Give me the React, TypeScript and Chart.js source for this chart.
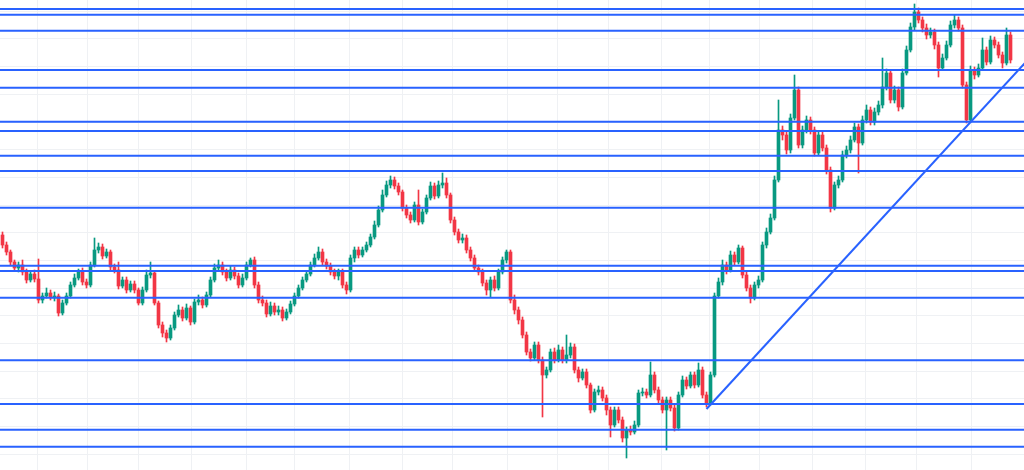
import { useEffect, useRef } from "react";
import Chart from "chart.js/auto";

// Daily candles: [open, high, low, close] (price points)
const candles: [number, number, number, number][] = [
  [265,268,252,255],[255,258,245,248],[248,250,235,238],[238,240,229,232],[232,238,228,235],
  [235,240,225,228],[228,231,217,220],[220,229,218,226],[226,230,218,221],[221,241,197,200],
  [200,207,197,204],[204,212,202,207],[207,210,200,203],[203,208,199,204],[204,206,184,187],
  [187,200,185,197],[197,207,195,204],[204,218,202,215],[215,226,213,222],[222,231,220,228],
  [228,232,215,218],[218,221,212,215],[215,238,213,235],[235,262,233,250],[250,257,247,253],
  [253,256,241,244],[244,251,242,248],[248,250,230,233],[233,236,227,230],[230,238,211,214],
  [214,223,212,220],[220,223,207,210],[210,219,208,216],[216,219,207,210],[210,212,195,197],
  [197,213,195,210],[210,230,208,225],[225,238,222,227],[227,229,195,197],[197,199,172,175],
  [175,178,163,167],[167,170,158,162],[162,175,160,172],[172,188,170,185],[185,195,183,190],
  [190,193,179,182],[182,196,180,192],[192,194,175,178],[178,201,176,198],[198,205,195,200],
  [200,203,192,195],[195,208,193,205],[205,223,203,220],[220,236,218,232],[232,240,230,235],
  [235,238,225,228],[228,231,219,222],[222,234,220,230],[230,233,221,224],[224,227,212,215],
  [215,226,213,222],[222,238,220,235],[235,242,233,240],[240,243,212,215],[215,218,197,200],
  [200,204,194,197],[197,200,183,186],[186,198,184,194],[194,197,185,188],[188,194,185,190],
  [190,193,179,182],[182,191,180,188],[188,199,186,196],[196,207,194,204],[204,215,202,212],
  [212,223,210,220],[220,229,218,226],[226,238,224,235],[235,246,233,242],[242,253,240,248],
  [248,251,235,238],[238,241,231,234],[234,237,225,228],[228,231,221,224],[224,231,220,228],
  [228,231,212,215],[215,218,206,210],[210,245,208,242],[242,253,238,250],[250,253,242,245],
  [245,253,243,250],[250,258,248,255],[255,266,253,263],[263,279,261,275],[275,294,273,290],
  [290,310,288,305],[305,319,303,315],[315,324,312,320],[320,323,311,314],[314,317,305,308],
  [308,310,289,292],[292,295,282,285],[285,288,277,280],[280,298,278,295],[295,310,275,278],
  [278,291,276,288],[288,305,286,302],[302,318,300,314],[314,317,301,304],[304,319,302,315],
  [315,327,312,317],[317,322,302,305],[305,307,277,280],[280,283,265,268],[268,271,257,260],
  [260,266,257,262],[262,265,247,250],[250,253,239,242],[242,245,229,232],[232,235,225,228],
  [228,231,214,217],[217,220,205,210],[210,223,203,220],[220,224,209,212],[212,231,210,228],
  [228,243,226,240],[240,250,237,248],[248,250,197,200],[200,205,186,190],[190,193,176,180],
  [180,183,162,165],[165,168,145,148],[148,151,139,142],[142,158,140,155],[155,158,137,140],
  [140,143,83,125],[125,133,122,130],[130,151,128,148],[148,152,137,140],[140,155,138,150],
  [150,153,137,140],[140,165,137,145],[145,157,142,153],[153,156,127,130],[130,133,118,122],
  [122,131,120,128],[128,131,112,115],[115,117,87,90],[90,111,88,108],[108,114,105,110],
  [110,113,99,102],[102,105,85,90],[90,93,63,75],[75,93,73,90],[90,93,77,80],
  [80,83,58,62],[62,73,42,70],[70,74,65,68],[68,79,66,75],[75,110,73,107],
  [107,112,104,108],[108,111,102,105],[105,138,103,125],[125,128,107,110],[110,113,97,100],
  [100,103,87,90],[90,103,50,100],[100,103,89,92],[92,95,69,72],[72,108,70,105],
  [105,124,103,120],[120,123,111,114],[114,128,112,125],[125,128,112,115],[115,137,113,130],
  [130,133,102,105],[105,108,93,97],[97,128,95,125],[125,207,123,204],[204,222,202,218],
  [218,240,215,235],[235,238,226,230],[230,249,228,245],[245,248,235,238],[238,255,236,252],
  [252,254,222,225],[225,228,209,212],[212,215,197,202],[202,218,200,215],[215,224,212,220],
  [220,258,218,255],[255,272,252,268],[268,286,266,282],[282,324,280,320],[320,400,318,370],
  [370,374,360,365],[365,368,346,350],[350,386,347,382],[382,425,380,410],[410,413,352,355],
  [355,374,352,370],[370,384,367,380],[380,383,366,370],[370,373,344,347],[347,369,345,365],
  [365,368,349,352],[352,355,326,330],[330,333,288,292],[292,318,290,315],[315,324,312,320],
  [320,349,318,345],[345,354,342,350],[350,364,347,360],[360,377,358,373],[373,376,327,357],
  [357,384,355,380],[380,395,377,390],[390,393,375,378],[378,392,375,388],[388,399,385,395],
  [395,442,392,413],[413,431,410,427],[427,430,397,400],[400,414,397,410],[410,413,389,393],
  [393,431,391,427],[427,454,425,450],[450,477,448,473],[473,496,470,488],[488,492,477,480],
  [480,483,468,472],[472,476,461,465],[465,472,462,468],[468,471,451,455],[455,458,423,432],
  [432,446,430,442],[442,459,440,455],[455,479,453,475],[475,485,472,480],[480,483,469,472],
  [472,475,412,415],[415,418,377,380],[380,434,378,430],[430,433,421,425],[425,436,423,432],
  [432,462,430,450],[450,453,435,438],[438,464,436,460],[460,463,452,455],[455,458,442,445],
  [445,448,432,437],[437,472,435,465],[465,468,437,440],
];

// Horizontal support / resistance levels (price points)
const levels = [491, 485.3, 469.3, 430, 412.3, 378.3, 369, 344.3, 329, 292.3, 234.3, 229, 202.3, 139.7, 96, 70.3, 53.3];

// Rising trendline anchored at the swing low
const trendline = [
  { x: 176, y: 91 },
  { x: 260, y: 456 },
];

// Month boundaries (candle index) and price grid lines
const monthStarts = [8.7, 21.2, 33.95, 47.2, 60.95, 72.9, 86.7, 99.95, 112.45, 126.2, 138.8, 151.45, 164.7, 176.7, 189.2, 202.55, 215.7, 228.45, 242.2];
const priceGrid = [488.7, 461, 433.3, 405.7, 378, 350.3, 322.7, 295, 267.3, 239.7, 212, 184.3, 156.7, 129, 101.3, 73.7, 46];

const UP = "#089981";
const DOWN = "#f23645";
const LEVEL = "#2962ff";
const GRID = "#eff1f4";

const X_MIN = -0.625;
const X_MAX = 255.375;
const Y_MIN = 30;
const Y_MAX = 500;

export default function App() {
  const ref = useRef<HTMLCanvasElement | null>(null);

  useEffect(() => {
    if (!ref.current) return;
    const colors = candles.map((c) => (c[3] >= c[0] ? UP : DOWN));

    const levelSets = levels.map((v) => ({
      type: "line" as const,
      data: [
        { x: X_MIN - 5, y: v },
        { x: X_MAX + 5, y: v },
      ],
      borderColor: LEVEL,
      borderWidth: 2,
      pointRadius: 0,
      fill: false,
      order: 0,
    }));

    const chart = new Chart(ref.current, {
      type: "bar",
      data: {
        datasets: [
          {
            type: "bar",
            data: candles.map((c, i) => ({ x: i, y: [c[2], c[1]] })) as any,
            backgroundColor: colors,
            barThickness: 1,
            grouped: false,
            order: 2,
          },
          {
            type: "bar",
            data: candles.map((c, i) => ({ x: i, y: [c[0], c[3]] })) as any,
            backgroundColor: colors,
            barThickness: 3,
            minBarLength: 1,
            grouped: false,
            order: 1,
          },
          ...levelSets,
          {
            type: "line",
            data: trendline,
            borderColor: LEVEL,
            borderWidth: 2,
            pointRadius: 0,
            fill: false,
            order: 0,
          },
        ] as any,
      },
      options: {
        responsive: false,
        animation: false,
        devicePixelRatio: 1,
        layout: { padding: 0, autoPadding: false },
        plugins: { legend: { display: false }, tooltip: { enabled: false } },
        scales: {
          x: {
            type: "linear",
            offset: false,
            min: X_MIN,
            max: X_MAX,
            afterBuildTicks: (s: any) => {
              s.ticks = monthStarts.map((v) => ({ value: v }));
            },
            ticks: { display: false },
            grid: { color: GRID, drawTicks: false, lineWidth: 1, offset: false },
            border: { display: false },
          },
          y: {
            type: "linear",
            min: Y_MIN,
            max: Y_MAX,
            afterBuildTicks: (s: any) => {
              s.ticks = priceGrid.map((v) => ({ value: v }));
            },
            ticks: { display: false },
            grid: { color: GRID, drawTicks: false, lineWidth: 1 },
            border: { display: false },
          },
        },
      },
    } as any);
    return () => chart.destroy();
  }, []);

  return (
    <div style={{ position: "absolute", left: 0, top: 0, width: 1024, height: 470, background: "#ffffff" }}>
      <canvas ref={ref} width={1024} height={470} />
    </div>
  );
}
